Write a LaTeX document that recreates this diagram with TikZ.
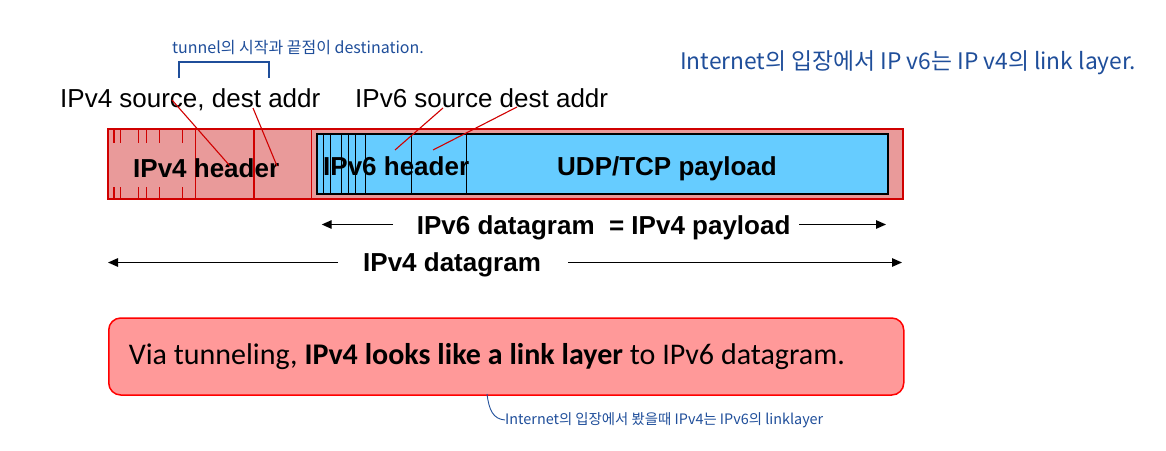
\documentclass[tikz,border=0pt]{standalone}
\usepackage{fontspec}
\setmainfont{Liberation Sans}
\newfontfamily\calibri{Carlito}
\newfontfamily\hangul{Noto Sans CJK KR}
\usepackage{xcolor}
\usetikzlibrary{arrows.meta,positioning}
\definecolor{hdrred}{HTML}{D00000}
\definecolor{hdrpink}{HTML}{E99A9A}
\definecolor{sixblue}{HTML}{66CCFF}
\definecolor{notepink}{HTML}{FF9999}
\definecolor{penblue}{HTML}{1F4E9A}

\begin{document}
\begin{tikzpicture}[x=1pt,y=-1pt,>={Triangle[length=10pt,width=8.5pt]},
  big/.style={font=\fontsize{26}{30}\selectfont,inner sep=0pt,anchor=base west},
  bigb/.style={font=\fontsize{26}{30}\selectfont\bfseries,inner sep=0pt,anchor=base west},
  lead/.style={hdrred,line width=1.1pt},
  pen/.style={penblue,inner sep=0pt,anchor=west},
  dimline/.style={line width=1.3pt},
  notebox/.style={draw=red,fill=notepink,line width=1.5pt,rounded corners=12pt,
    minimum height=77pt,inner xsep=20pt,text width=755pt,align=left,anchor=west}]
\useasboundingbox (0,0) rectangle (1166,450);
\draw[hdrred,fill=hdrpink,line width=1.5pt](108,129)rectangle(903,199);
\foreach \x in {114,120.7,138.3,146.7,159.3,182.3}
  \draw[hdrred,line width=1.2pt](\x,129)--(\x,143)(\x,187)--(\x,199);
\foreach \x in {195.7,254,311.7}
  \draw[hdrred,line width=1.2pt](\x,129)--(\x,199);
\draw[line width=1.8pt,fill=sixblue](316.7,134.3)rectangle(887.7,194);
\foreach \x in {323.3,330,341.7,348.3,355,365.7,411,466.7}
  \draw[line width=0.9pt](\x,134.3)--(\x,194);
\node[bigb](vfourhdr) at (133,177){IPv4 header};
\node[bigb](vsixhdr) at (323,175){IPv6 header};
\node[bigb](payload) at (557,175){UDP/TCP payload};
\node[big](vfouraddr) at (60,107){IPv4 source, dest addr};
\node[big](vsixaddr) at (355,107){IPv6 source dest addr};
\coordinate(sa) at (172,100);\coordinate(sb) at (230,166);
\coordinate(da) at (253,108);\coordinate(db) at (277,166);
\coordinate(s6a) at (443,108);\coordinate(s6b) at (395,150);
\coordinate(d6a) at (517,107);\coordinate(d6b) at (433,150);
\draw[lead](sa)--(sb) (da)--(db) (s6a)--(s6b) (d6a)--(d6b);
% datagram rows
\node[bigb](sixdg) at (416.7,234.3){IPv6 datagram\ \ = IPv4 payload};
\node[bigb](fourdg) at (363,271.7){IPv4 datagram};
\coordinate(ra) at (393,224.5);\coordinate(rtipl) at (321.7,224.5);
\coordinate(rb) at (799,224.5);\coordinate(rtipr) at (886,224.5);
\coordinate(qa) at (338,262.5);\coordinate(qtipl) at (108,262.5);
\coordinate(qb) at (568,262.5);\coordinate(qtipr) at (902,262.5);
\draw[dimline,->](ra)--(rtipl);
\draw[dimline,->](rb)--(rtipr);
\draw[dimline,->](qa)--(qtipl);
\draw[dimline,->](qb)--(qtipr);
\node[notebox](tunbox) at (108,356.5){\calibri\fontsize{30}{36}\selectfont\spaceskip=6.9pt Via tunneling, \textbf{IPv4 looks like a link layer} to IPv6 datagram.};
% handwritten notes
\node[pen,font=\hangul\fontsize{16}{18}\selectfont](tunnote) at (172,48){tunnel의 시작과 끝점이 destination.};
\draw[penblue,line width=1.3pt](179,78)--(179,62)--(269,62)--(269,78);
\node[pen,font=\hangul\fontsize{22.8}{25}\selectfont](inetnote) at (680,63){Internet의 입장에서 IP v6는 IP v4의 link layer.};
\node[pen,font=\hangul\fontsize{14.4}{16}\selectfont](linknote) at (505,420){Internet의 입장에서 봤을때 IPv4는 IPv6의 linklayer};
\coordinate(curl) at (487,394);
\draw[penblue,line width=0.9pt](curl)..controls(489,410)and(493,419)..(linknote.west);
\end{tikzpicture}
\end{document}
